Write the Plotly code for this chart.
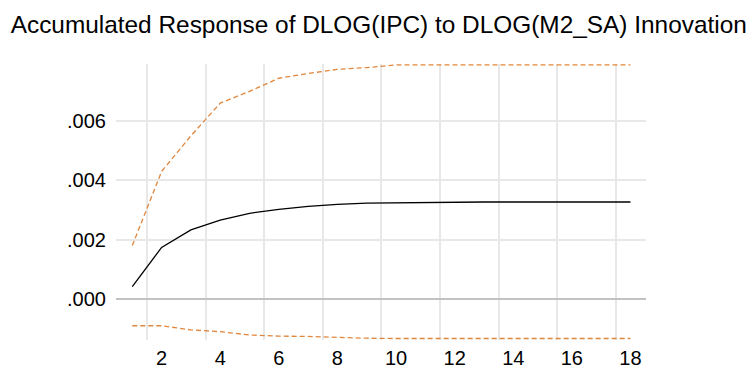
import plotly.graph_objects as go

periods = list(range(1, 19))
response = [0.000415, 0.00174, 0.00233, 0.00266, 0.00289, 0.00302, 0.00312, 0.00319,
            0.00323, 0.00324, 0.00327, 0.00327, 0.00327, 0.00327, 0.00327, 0.00327, 0.00327, 0.00327]
upper = [0.0018, 0.0043, 0.0055, 0.0066, 0.0070, 0.00744, 0.0076, 0.00774,
         0.0078, 0.00789, 0.00789, 0.00789, 0.00789, 0.00789, 0.00789, 0.00789, 0.00789, 0.00789]
lower = [-0.0009, -0.0009, -0.00104, -0.0011, -0.00121, -0.00125, -0.00126, -0.0013,
         -0.00132, -0.00133, -0.00133, -0.00133, -0.00133, -0.00133, -0.00133, -0.00133, -0.00133, -0.00133]
x_tick_vals = [2, 4, 6, 8, 10, 12, 14, 16, 18]
x_grid_vals = [1.5, 3.5, 5.5, 7.5, 9.5, 11.5, 13.5, 15.5, 17.5]
y_tick_vals = [0.0, 0.002, 0.004, 0.006]
y_tick_text = [".000", ".002", ".004", ".006"]
title = "Accumulated Response of DLOG(IPC) to DLOG(M2_SA) Innovation"

orange = "#E0873F"
font = "Liberation Sans, Arial, sans-serif"

fig = go.Figure()
fig.add_trace(go.Scatter(x=periods, y=upper, mode="lines",
                         line=dict(color=orange, width=1.3, dash="5px,3px")))
fig.add_trace(go.Scatter(x=periods, y=lower, mode="lines",
                         line=dict(color=orange, width=1.3, dash="5px,3px")))
fig.add_trace(go.Scatter(x=periods, y=response, mode="lines",
                         line=dict(color="#000000", width=1.3)))
# invisible trace on grid axis so it renders
fig.add_trace(go.Scatter(x=[periods[0]], y=[response[0]], xaxis="x2", mode="markers",
                         marker=dict(opacity=0), hoverinfo="skip"))

xr = [0.444, 18.53]
fig.update_layout(
    width=750, height=370,
    margin=dict(l=116, r=104, t=64, b=30),
    paper_bgcolor="white", plot_bgcolor="white",
    showlegend=False,
    font=dict(family=font, color="#000000"),
    title=dict(text=title, x=0.505, xanchor="center", y=0.934, yanchor="middle",
               font=dict(family=font, size=24.4, color="#000000")),
    xaxis=dict(range=xr, tickvals=x_tick_vals, showgrid=False, zeroline=False,
               showline=False, ticks="", tickfont=dict(size=20), ticklabelstandoff=4,
               automargin=False),
    xaxis2=dict(range=xr, overlaying="x", tickvals=x_grid_vals, showticklabels=False,
                showgrid=True, gridcolor="#E8E8E8", gridwidth=2, zeroline=False,
                showline=False, ticks="", automargin=False),
    yaxis=dict(range=[-0.00138, 0.00792], tickvals=y_tick_vals, ticktext=y_tick_text,
               showgrid=True, gridcolor="#E8E8E8", gridwidth=2,
               zeroline=True, zerolinecolor="#C2C2C2", zerolinewidth=1.6,
               showline=False, ticks="", tickfont=dict(size=20), ticklabelstandoff=9,
               automargin=False),
)
fig.write_html("out.html", config={"displayModeBar": False},
               post_script="document.body.style.margin='0';document.body.style.padding='0';")
